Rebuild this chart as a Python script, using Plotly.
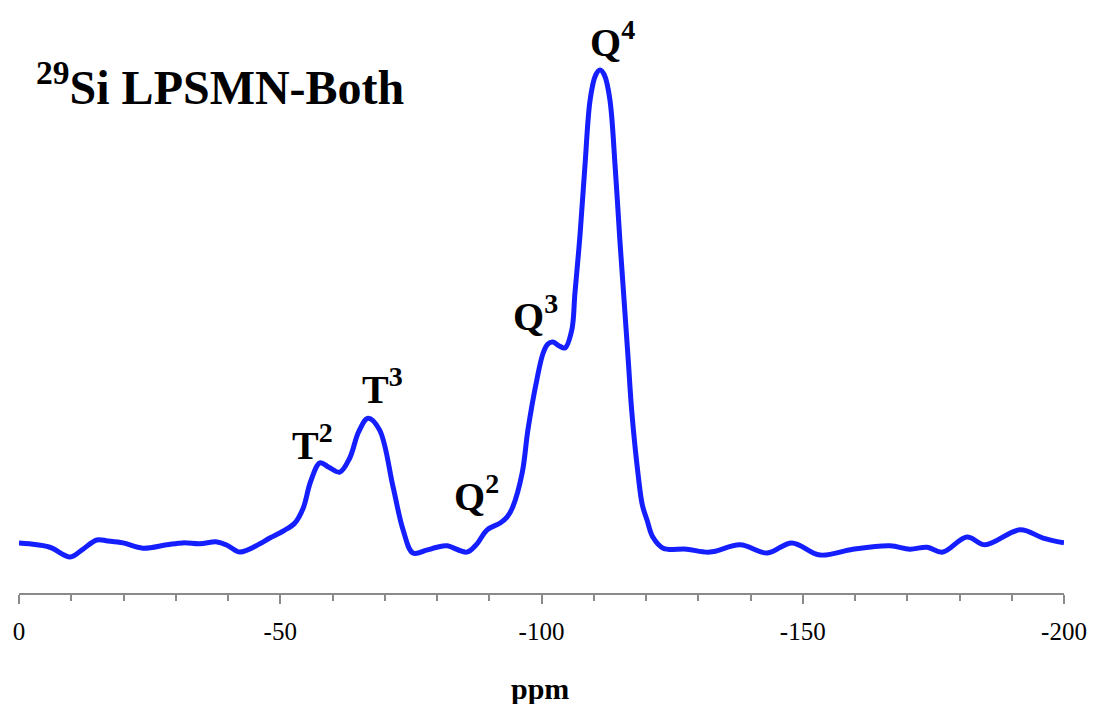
import plotly.graph_objects as go

ppm = [0, -2, -5.9, -9.8, -12, -14.9, -17, -19.9, -23.7, -28.3, -31.4, -34.6, -37.9, -40, -42.3,
       -46.1, -48, -50.5, -52.8, -54.4, -55.8, -57.6, -59.3, -61.4, -63.3, -65, -66.8, -69, -71.6,
       -73.5, -75.4, -78, -80, -81.9, -85.7, -87.5, -89.6, -92.1, -93.4, -94.5, -96.3, -97.4, -99.1,
       -100.3, -101.2, -102.2, -103.4, -104.5, -105.8, -106.4, -107.4, -108.3, -109.3, -110.3, -111.2,
       -112.1, -113.1, -114.1, -115.0, -115.8, -116.6, -117.3, -118.5, -119.3, -120.2, -121.3, -123.3,
       -127.8, -132.2, -138, -143.2, -147.9, -153.3, -159.6, -166.7, -170.5, -173.8, -176.8, -181.4,
       -184.9, -191.6, -196, -200]
intensity = [2.5, 2.3, 1.6, -0.4, 1.0, 3.1, 2.9, 2.5, 1.4, 2.1, 2.5, 2.3, 2.7, 1.9, 0.6,
             2.3, 3.5, 4.9, 6.6, 9.7, 15.1, 19.0, 18.1, 17.1, 20.0, 25.4, 28.2, 25.8, 14.0,
             5.2, 0.4, 1.0, 1.6, 1.9, 0.6, 2.1, 5.2, 6.6, 7.8, 9.9, 16.9, 25.8, 36.1,
             41.6, 43.5, 43.9, 43.1, 42.7, 46.4, 54.0, 66.4, 80.0, 93.8, 98.8, 100.0,
             98.8, 93.8, 80.0, 64.9, 52.6, 40.2, 29.3, 16.5, 10.3, 7.2, 3.7, 1.4,
             1.2, 0.6, 2.1, 0.4, 2.5, 0.0, 1.2, 1.9, 1.2, 1.6, 0.6, 3.7,
             2.1, 5.2, 3.5, 2.5]

tick_vals = [0, -50, -100, -150, -200]
tick_text = ["0", "-50", "-100", "-150", "-200"]

peak_labels = ["T<sup>2</sup>", "T<sup>3</sup>", "Q<sup>2</sup>", "Q<sup>3</sup>", "Q<sup>4</sup>"]
peak_x = [-56.1, -69.5, -87.5, -98.8, -113.5]
peak_y = [23.1, 34.8, 12.6, 49.7, 106.2]

title_text = "<sup>29</sup>Si LPSMN-Both"
x_title = "ppm"

fig = go.Figure()
fig.add_trace(go.Scatter(
    x=ppm, y=intensity, mode="lines",
    line=dict(color="rgb(20,30,255)", width=5, shape="spline", smoothing=1.0),
    hoverinfo="skip", showlegend=False,
))

for lab, lx, ly in zip(peak_labels, peak_x, peak_y):
    fig.add_annotation(x=lx, y=ly, xref="x", yref="y", text="<b>" + lab + "</b>",
                       showarrow=False, xanchor="center", yanchor="middle",
                       font=dict(family="Liberation Serif", size=40, color="black"))

fig.add_annotation(x=(34 - 19) / 1045, y=(593 - 84) / 573, xref="paper", yref="paper",
                   text="<b>" + title_text + "</b>", showarrow=False,
                   xanchor="left", yanchor="middle",
                   font=dict(family="Liberation Serif", size=48, color="black"))

fig.add_annotation(x=(540 - 19) / 1045, y=(593 - 688) / 573, xref="paper", yref="paper",
                   text="<b>" + x_title + "</b>", showarrow=False,
                   xanchor="center", yanchor="middle",
                   font=dict(family="Liberation Serif", size=30, color="black"))

fig.update_layout(
    width=1093, height=704,
    margin=dict(l=19, r=29, t=20, b=111, autoexpand=False),
    paper_bgcolor="white", plot_bgcolor="white",
    xaxis=dict(
        range=[0, -200], showgrid=False, zeroline=False, automargin=False,
        showline=True, linecolor="#8a8a8a", linewidth=1.5,
        tickmode="array", tickvals=tick_vals, ticktext=tick_text,
        ticks="outside", ticklen=9, tickwidth=1.5, tickcolor="#8a8a8a",
        ticklabelstandoff=6,
        tickfont=dict(family="Liberation Serif", size=25, color="black"),
        minor=dict(ticks="outside", dtick=10, tick0=0, ticklen=6, tickwidth=1.5, tickcolor="#8a8a8a", showgrid=False),
    ),
    yaxis=dict(range=[(555 - 593) / 4.85, (555 - 20) / 4.85], visible=False),
)

fig.write_html("out.html")
